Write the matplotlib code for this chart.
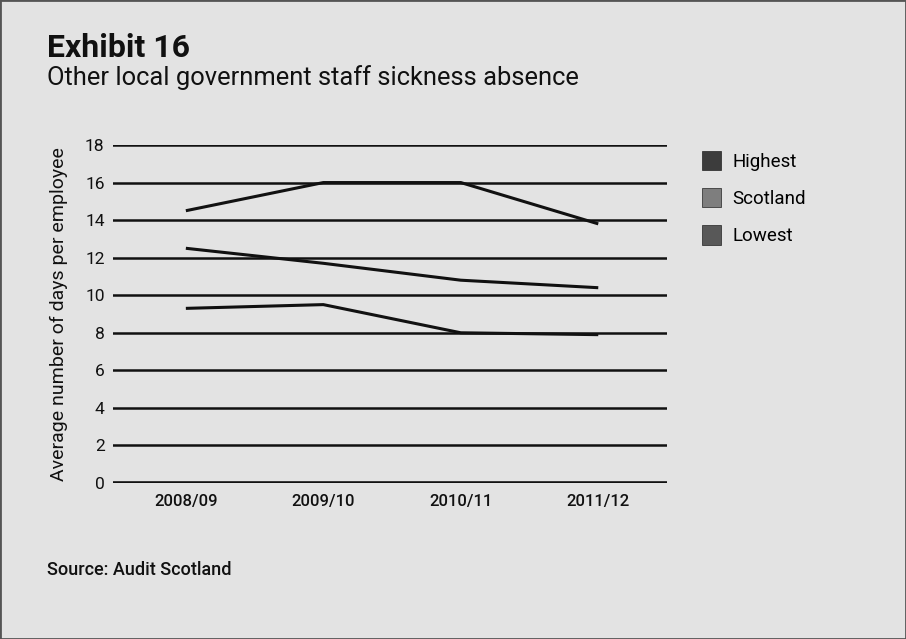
import matplotlib
matplotlib.use("Agg")
import matplotlib.pyplot as plt
from matplotlib.patches import Patch

years = ["2008/09", "2009/10", "2010/11", "2011/12"]
highest = [14.5, 16.0, 16.0, 13.8]
scotland = [12.5, 11.7, 10.8, 10.4]
lowest = [9.3, 9.5, 8.0, 7.9]
series_names = ["Highest", "Scotland", "Lowest"]
legend_colors = ["#3c3c3c", "#7e7e7e", "#585858"]
yticks = [0, 2, 4, 6, 8, 10, 12, 14, 16, 18]

plt.rcParams['font.family'] = ['Roboto', 'DejaVu Sans']
bg = "#e3e3e3"
fig = plt.figure(figsize=(9.06, 6.39), dpi=100, facecolor=bg)
W, H = 906, 639
ax = fig.add_axes([113 / W, 1 - 483 / H, (667 - 113) / W, (483 - 145) / H])
ax.set_facecolor(bg)

x = list(range(len(years)))
for vals in (highest, scotland, lowest):
    ax.plot(x, vals, color="#111111", lw=2.2, solid_capstyle="butt", zorder=3)

for t in yticks:
    ax.axhline(t, color="#111111", lw=2.6 if t == 0 else 1.8, zorder=2)

ax.set_ylim(0, 18)
ax.set_xlim(-0.53, 3.5)
ax.set_yticks(yticks)
ax.set_xticks(x)
ax.set_xticklabels(years, fontsize=12, fontweight="medium")
ax.tick_params(axis="both", length=0, colors="#111111")
ax.tick_params(axis="y", labelsize=12.5, pad=6)
ax.tick_params(axis="x", pad=8)
for s in ax.spines.values():
    s.set_visible(False)
ax.set_ylabel("Average number of days per employee", fontsize=14, color="#111111", labelpad=12)

handles = [Patch(facecolor=c, edgecolor="#222222", lw=0.5) for c in legend_colors]
fig.legend(handles, series_names, loc="upper left", bbox_to_anchor=(694 / W, 1 - 143 / H),
           frameon=False, fontsize=13.5, handlelength=1.05, handleheight=1.25,
           labelspacing=0.9, handletextpad=0.6, borderaxespad=0)

fig.text(47 / W, 1 - 57 / H, "Exhibit 16", fontsize=23, fontweight="bold", color="#111111")
fig.text(47 / W, 1 - 85 / H, "Other local government staff sickness absence", fontsize=18.4, color="#111111")
fig.text(47 / W, 1 - 575 / H, "Source: Audit Scotland", fontsize=13, fontweight="medium", color="#111111")

fig.patches.append(plt.Rectangle((0, 0), 1, 1, transform=fig.transFigure, fill=False,
                                 edgecolor="#555555", lw=2))
fig.savefig("out.png", dpi=100, facecolor=bg)
